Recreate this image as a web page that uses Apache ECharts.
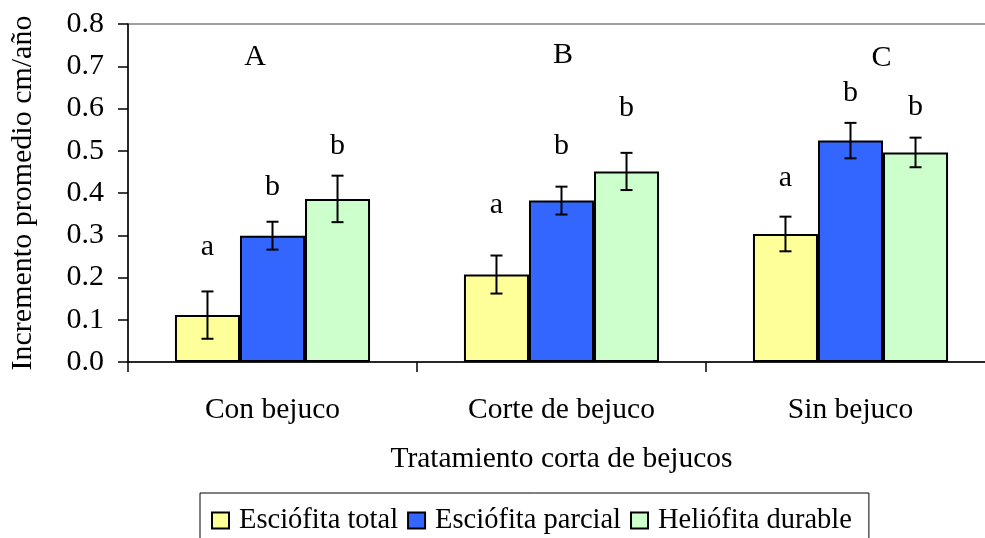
<!DOCTYPE html>
<html>
<head>
<meta charset="utf-8">
<script src="https://cdn.jsdelivr.net/npm/echarts@6/dist/echarts.min.js"></script>
<style>
  html, body { margin: 0; padding: 0; background: #ffffff; overflow: hidden; }
  #chart { width: 985px; height: 538px; }
</style>
</head>
<body>
<div id="chart"></div>
<script>
// Growth increment (cm/year) by liana-cutting treatment and light guild
const categories = ['Con bejuco', 'Corte de bejuco', 'Sin bejuco'];
const seriesNames = ['Esciófita total', 'Esciófita parcial', 'Heliófita durable'];

const esciofitaTotal   = [0.111, 0.207, 0.303];
const esciofitaParcial = [0.299, 0.382, 0.524];
const heliofitaDurable = [0.386, 0.451, 0.496];

// half-width of the error bars
const errTotal     = [0.056, 0.045, 0.041];
const errParcial   = [0.033, 0.033, 0.042];
const errHeliofita = [0.055, 0.044, 0.035];

// significance letters
const lettersTotal     = ['a', 'a', 'a'];
const lettersParcial   = ['b', 'b', 'b'];
const lettersHeliofita = ['b', 'b', 'b'];
const groupLetters = ['A', 'B', 'C'];

const yTicks = [0, 0.1, 0.2, 0.3, 0.4, 0.5, 0.6, 0.7, 0.8];

// annotation layout (axis units for height, band fraction for shift)
const letterHeight = [
  [0.273, 0.372, 0.436],
  [0.415, 0.511, 0.637],
  [0.511, 0.601, 0.604]
];
const groupLetterHeight = [0.722, 0.726, 0.719];
const groupLetterShift = [-0.06, 0.005, 0.107];

const FONT = '"Liberation Serif", "Times New Roman", serif';
const colors = ['#FFFF99', '#3366FF', '#CCFFCC'];
const CAT_GAP = 0.325;

const values = [esciofitaTotal, esciofitaParcial, heliofitaDurable];
const errors = [errTotal, errParcial, errHeliofita];
const letters = [lettersTotal, lettersParcial, lettersHeliofita];

const barSeries = values.map((vals, k) => ({
  name: seriesNames[k],
  type: 'bar',
  data: vals,
  barGap: 0,
  barCategoryGap: (CAT_GAP * 100) + '%',
  itemStyle: { color: colors[k], borderColor: '#000', borderWidth: 2 },
  emphasis: { disabled: true },
  z: 2
}));

const errorSeries = values.map((vals, k) => ({
  type: 'custom',
  name: 'err' + k,
  silent: true,
  z: 5,
  data: vals.map((v, i) => [i, v, errors[k][i], letterHeight[k][i]]),
  renderItem: function (params, api) {
    const idx = api.value(0);
    const val = api.value(1);
    const err = api.value(2);
    const band = api.size([1, 0])[0];
    const barW = band * (1 - CAT_GAP) / 3;
    const x = api.coord([idx, 0])[0] + (k - 1) * barW;
    const yHi = api.coord([idx, val + err])[1];
    const yLo = api.coord([idx, val - err])[1];
    const yTxt = api.coord([idx, api.value(3)])[1];
    const cap = 6;
    const ls = { stroke: '#000', lineWidth: 2 };
    return {
      type: 'group',
      children: [
        { type: 'line', shape: { x1: x, y1: yHi, x2: x, y2: yLo }, style: ls },
        { type: 'line', shape: { x1: x - cap, y1: yHi, x2: x + cap, y2: yHi }, style: ls },
        { type: 'line', shape: { x1: x - cap, y1: yLo, x2: x + cap, y2: yLo }, style: ls },
        { type: 'text', x: x, y: yTxt,
          style: { text: letters[k][idx], fontSize: 30, fontFamily: FONT, fill: '#000',
                   align: 'center', verticalAlign: 'middle' } }
      ]
    };
  }
}));

const groupLetterSeries = {
  type: 'custom',
  name: 'groups',
  silent: true,
  z: 5,
  data: categories.map((c, i) => [i, groupLetterHeight[i]]),
  renderItem: function (params, api) {
    const idx = api.value(0);
    const band = api.size([1, 0])[0];
    const p = api.coord([idx, api.value(1)]);
    return {
      type: 'text', x: p[0] + groupLetterShift[idx] * band, y: p[1],
      style: { text: groupLetters[idx], fontSize: 30, fontFamily: FONT, fill: '#000',
               align: 'center', verticalAlign: 'middle' }
    };
  }
};

const chart = echarts.init(document.getElementById('chart'), null, { renderer: 'canvas' });
chart.setOption({
  animation: false,
  backgroundColor: '#ffffff',
  textStyle: { fontFamily: FONT, color: '#000' },
  grid: {
    left: 128, top: 24, height: 338, width: 867,
    outerBoundsMode: 'none',
    containLabel: false,
    show: true, borderColor: '#808080', borderWidth: 1.5, backgroundColor: 'transparent'
  },
  legend: {
    data: seriesNames,
    icon: 'rect',
    left: 200, top: 493,
    padding: [13, 17, 14, 11],
    itemWidth: 17, itemHeight: 16, itemGap: 9,
    borderColor: '#000', borderWidth: 1,
    selectedMode: false,
    textStyle: { fontFamily: FONT, fontSize: 28.5, color: '#000', padding: [0, 0, 0, 5] }
  },
  xAxis: {
    type: 'category',
    data: categories,
    name: 'Tratamiento corta de bejucos',
    nameLocation: 'middle',
    nameGap: 82,
    nameTextStyle: { fontFamily: FONT, fontSize: 29.5, color: '#000' },
    axisLine: { lineStyle: { color: '#000', width: 1.5 } },
    axisTick: { show: true, length: 10, lineStyle: { color: '#000', width: 1.5 } },
    axisLabel: { fontFamily: FONT, fontSize: 29.5, color: '#000', margin: 33 }
  },
  yAxis: {
    type: 'value',
    min: 0, max: 0.8, interval: 0.1,
    name: 'Incremento promedio cm/año',
    nameLocation: 'middle',
    nameGap: 90,
    nameTextStyle: { fontFamily: FONT, fontSize: 30, color: '#000' },
    splitLine: { show: false },
    axisLine: { show: true, lineStyle: { color: '#000', width: 1.5 } },
    axisTick: { show: true, length: 10, lineStyle: { color: '#000', width: 1.5 } },
    axisLabel: {
      fontFamily: FONT, fontSize: 30, color: '#000', margin: 24,
      formatter: v => {
        const t = yTicks.find(y => Math.abs(y - v) < 1e-9);
        return (t === undefined ? v : t).toFixed(1);
      }
    }
  },
  series: [...barSeries, ...errorSeries, groupLetterSeries]
});
</script>
</body>
</html>
